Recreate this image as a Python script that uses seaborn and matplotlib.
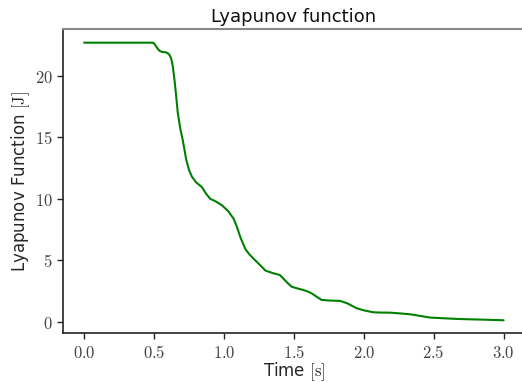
import numpy as np
import pandas as pd
import matplotlib
matplotlib.use("Agg")
import matplotlib.pyplot as plt
import seaborn as sns
from matplotlib.ticker import FuncFormatter

# Datos
time_s = [0.0, 0.25, 0.49, 0.50, 0.515, 0.528, 0.538, 0.555, 0.57, 0.585, 0.598,
          0.61, 0.622, 0.634, 0.646, 0.658, 0.67, 0.688, 0.705, 0.73, 0.75,
          0.771, 0.80, 0.842, 0.87, 0.902, 0.94, 0.986, 1.03, 1.069, 1.09,
          1.117, 1.152, 1.18, 1.212, 1.25, 1.296, 1.35, 1.399, 1.427, 1.45,
          1.483, 1.52, 1.566, 1.60, 1.626, 1.66, 1.698, 1.75, 1.829, 1.88,
          1.949, 2.0, 2.068, 2.12, 2.188, 2.247, 2.33, 2.40, 2.475, 2.56,
          2.667, 2.757, 2.857, 3.0]
lyapunov = [22.72, 22.72, 22.72, 22.66, 22.42, 22.2, 22.07, 21.97, 21.95, 21.93, 21.86,
            21.72, 21.45, 20.8, 19.7, 18.4, 16.97, 15.7, 14.8, 13.2, 12.35,
            11.8, 11.35, 10.96, 10.45, 10.0, 9.8, 9.47, 9.0, 8.38, 7.8,
            6.88, 5.93, 5.5, 5.12, 4.7, 4.16, 3.95, 3.80, 3.48, 3.2,
            2.85, 2.72, 2.58, 2.45, 2.31, 2.05, 1.77, 1.72, 1.69, 1.5,
            1.09, 0.92, 0.76, 0.74, 0.73, 0.68, 0.60, 0.47, 0.33, 0.28,
            0.22, 0.19, 0.16, 0.11]

df = pd.DataFrame({"Time": time_s, "V": lyapunov})

sns.set_style("ticks")
plt.rcParams["mathtext.fontset"] = "cm"
plt.rcParams["font.family"] = ["DejaVu Sans"]

fig = plt.figure(figsize=(5.22, 3.82), dpi=100)
ax = fig.add_axes([0.121, 0.1275, 0.884, 0.7955])

sns.lineplot(data=df, x="Time", y="V", color="green", linewidth=1.5, ax=ax)

ax.set_xlim(-0.15, 3.15)
ax.set_ylim(-0.95, 23.8)
ax.set_xticks([0.0, 0.5, 1.0, 1.5, 2.0, 2.5, 3.0])
ax.set_yticks([0, 5, 10, 15, 20])
ax.xaxis.set_major_formatter(FuncFormatter(lambda v, p: rf"${v:.1f}$"))
ax.yaxis.set_major_formatter(FuncFormatter(lambda v, p: rf"${v:.0f}$"))
ax.tick_params(labelsize=12, length=4, width=1, colors="#222222", labelcolor="#444444")

ax.set_title("Lyapunov function", fontsize=13, pad=5, color="#111111")
ax.set_xlabel(r"Time $[\mathrm{s}]$", fontsize=12, labelpad=-1)
ax.set_ylabel(r"Lyapunov Function $[\mathrm{J}]$", fontsize=12, labelpad=2)

ax.spines["right"].set_visible(False)
ax.spines["top"].set_color("#888888")
ax.spines["top"].set_linewidth(1.5)
for s in ["left", "bottom"]:
    ax.spines[s].set_color("#222222")
    ax.spines[s].set_linewidth(1.2)

fig.savefig("out.png", dpi=100)
